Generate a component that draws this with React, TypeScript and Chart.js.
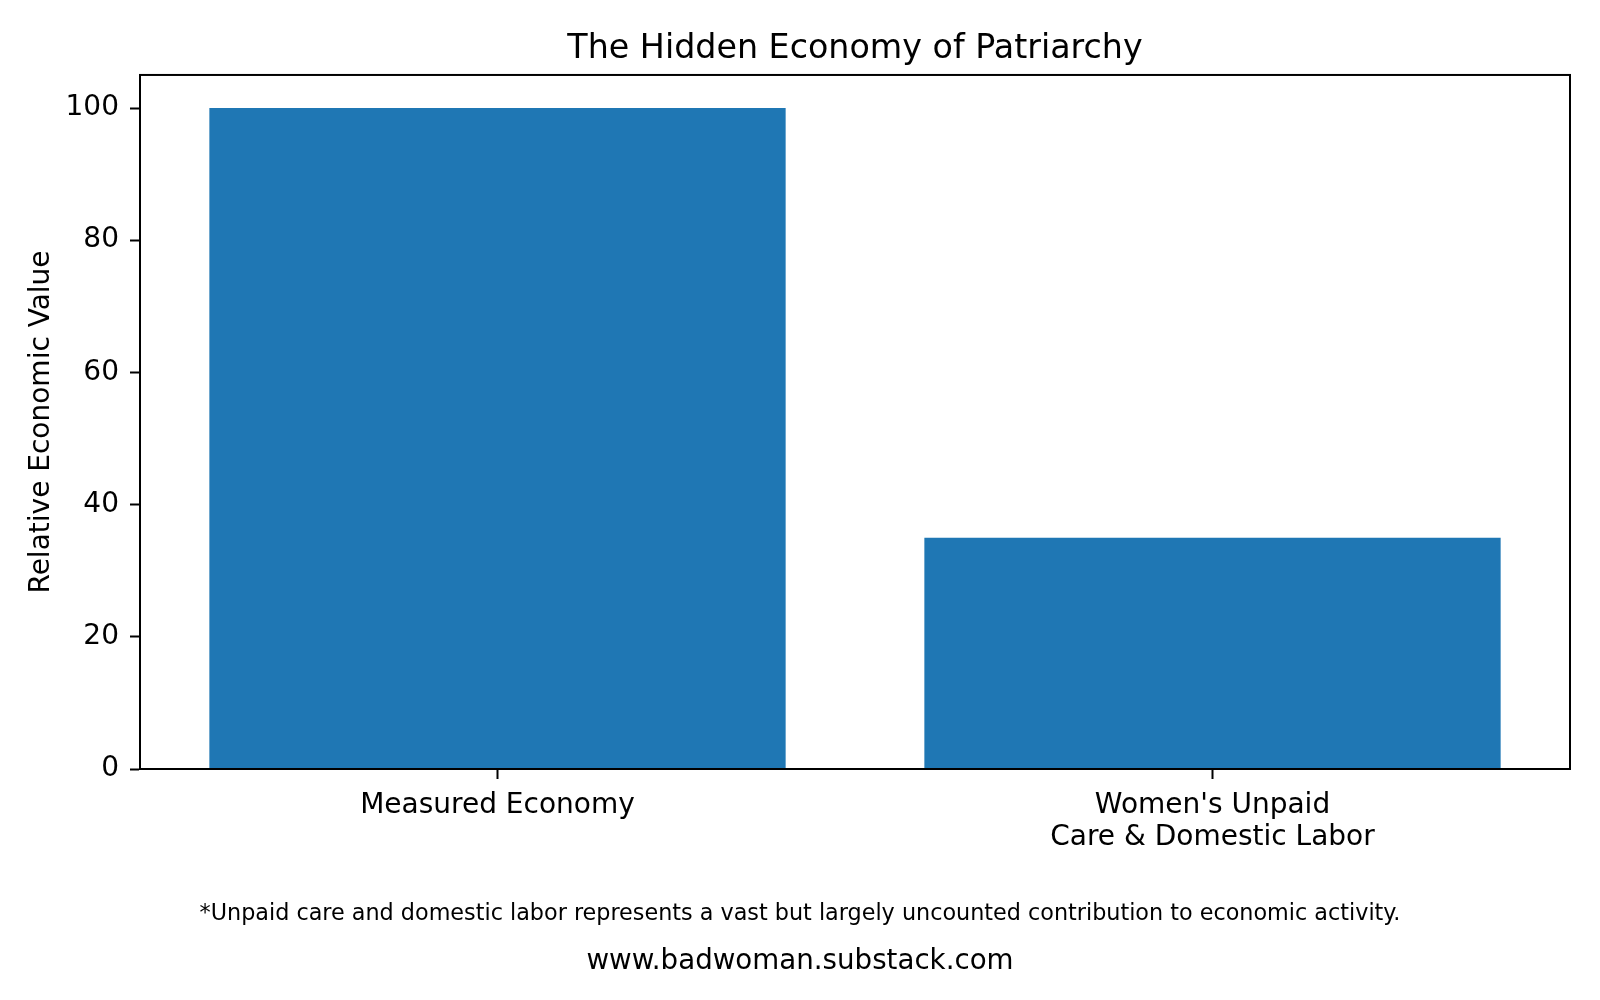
import { useEffect, useRef } from "react"
import { Chart, registerables } from "chart.js"

Chart.register(...registerables)

const categories = ["Measured Economy", ["Women's Unpaid", "Care & Domestic Labor"]]
const values = [100, 35]
const yTicks = [0, 20, 40, 60, 80, 100]

const chartTitle = "The Hidden Economy of Patriarchy"
const yTitle = "Relative Economic Value"
const footnote = "*Unpaid care and domestic labor represents a vast but largely uncounted contribution to economic activity."
const siteUrl = "www.badwoman.substack.com"

const FONT = "'DejaVu Sans', sans-serif"

// full black frame around the plot area, like matplotlib spines
const framePlugin = {
  id: "frame",
  afterDatasetsDraw(chart: Chart) {
    const { ctx, chartArea } = chart
    ctx.save()
    ctx.strokeStyle = "#000"
    ctx.lineWidth = 2
    ctx.strokeRect(chartArea.left, chartArea.top, chartArea.right - chartArea.left, chartArea.bottom - chartArea.top)
    ctx.restore()
  },
}

// footnote and site url under the chart
const footerPlugin = {
  id: "footer",
  afterDraw(chart: Chart) {
    const { ctx } = chart
    ctx.save()
    ctx.fillStyle = "#000"
    ctx.textAlign = "center"
    ctx.textBaseline = "middle"
    ctx.font = `22.3px ${FONT}`
    ctx.fillText(footnote, 800, 914)
    ctx.font = `27.7px ${FONT}`
    ctx.fillText(siteUrl, 800, 962)
    ctx.restore()
  },
}

export default function App() {
  const chartRef = useRef<HTMLCanvasElement>(null)
  const chartInstance = useRef<Chart | null>(null)

  useEffect(() => {
    document.body.style.margin = "0"
    if (!chartRef.current) return

    if (chartInstance.current) {
      chartInstance.current.destroy()
    }

    const ctx = chartRef.current.getContext("2d")
    if (!ctx) return

    chartInstance.current = new Chart(ctx, {
      type: "bar",
      data: {
        labels: categories,
        datasets: [
          {
            data: values,
            backgroundColor: "#1f77b4",
            borderWidth: 0,
            barPercentage: 0.806,
            categoryPercentage: 1,
          },
        ],
      },
      options: {
        responsive: false,
        animation: false,
        layout: {
          padding: { left: 0, right: 30, top: 0, bottom: 0 },
        },
        plugins: {
          legend: { display: false },
          tooltip: { enabled: false },
          title: {
            display: true,
            fullSize: false,
            text: chartTitle,
            color: "#000",
            font: { family: FONT, size: 33.3, weight: "normal", lineHeight: 1.2 },
            padding: { top: 29, bottom: 6 },
          },
        },
        scales: {
          x: {
            offset: true,
            afterFit: (scale) => {
              scale.height = 231
            },
            grid: {
              offset: false,
              drawOnChartArea: false,
              drawTicks: true,
              tickLength: 10,
              tickWidth: 2,
              tickColor: "#000",
            },
            border: { display: true, color: "#000", width: 2 },
            ticks: {
              color: "#000",
              padding: 11,
              maxRotation: 0,
              autoSkip: false,
              font: { family: FONT, size: 28, lineHeight: 1.13 },
            },
          },
          y: {
            min: 0,
            max: 105,
            afterFit: (scale) => {
              scale.width = 140
            },
            afterBuildTicks: (scale) => {
              scale.ticks = yTicks.map((v) => ({ value: v }))
            },
            grid: {
              drawOnChartArea: false,
              drawTicks: true,
              tickLength: 10,
              tickWidth: 2,
              tickColor: "#000",
            },
            border: { display: true, color: "#000", width: 2 },
            ticks: {
              color: "#000",
              padding: 11,
              includeBounds: false,
              font: { family: FONT, size: 28 },
            },
            title: {
              display: true,
              text: yTitle,
              color: "#000",
              font: { family: FONT, size: 28, lineHeight: 1.2 },
              padding: { top: 25, bottom: 0 },
            },
          },
        },
      },
      plugins: [framePlugin, footerPlugin],
    })

    return () => {
      if (chartInstance.current) {
        chartInstance.current.destroy()
        chartInstance.current = null
      }
    }
  }, [])

  return (
    <div style={{ width: 1600, height: 1000, background: "#fff" }}>
      <canvas ref={chartRef} width={1600} height={1000}></canvas>
    </div>
  )
}
